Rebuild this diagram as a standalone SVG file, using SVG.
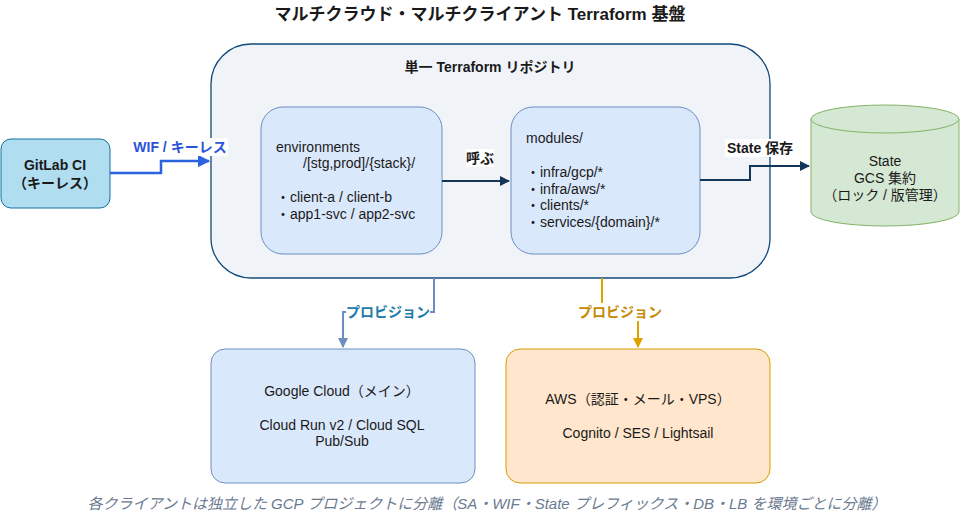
<svg xmlns="http://www.w3.org/2000/svg" width="961" height="515" viewBox="0 0 961 515">
<defs>
<style>
text{font-family:"Liberation Sans","Noto Sans CJK JP",sans-serif;fill:#1a1a1a}
.b{font-weight:bold}
.t{font-size:14px}
.lbl{font-size:14px;font-weight:bold}
</style>
<marker id="aBlue" viewBox="0 0 10 10" refX="9" refY="5" markerWidth="5" markerHeight="5" orient="auto"><path d="M0,0L10,5L0,10z" fill="#2b62e0"/></marker>
<marker id="aNavy" viewBox="0 0 10 10" refX="9" refY="5" markerWidth="5" markerHeight="5" orient="auto"><path d="M0,0L10,5L0,10z" fill="#143656"/></marker>
<marker id="aGcp" viewBox="0 0 10 10" refX="9" refY="5" markerWidth="5" markerHeight="5" orient="auto"><path d="M0,0L10,5L0,10z" fill="#6c8ebf"/></marker>
<marker id="aAws" viewBox="0 0 10 10" refX="9" refY="5" markerWidth="5" markerHeight="5" orient="auto"><path d="M0,0L10,5L0,10z" fill="#e0a000"/></marker>
</defs>
<rect width="961" height="515" fill="#fff"/>
<text x="480" y="20" text-anchor="middle" class="b" font-size="17">マルチクラウド・マルチクライアント Terraform 基盤</text>

<g id="repo">
<rect x="211" y="44" width="559" height="234" rx="40" fill="#f0f4f9" stroke="#12497a" stroke-width="1.3"/>
<text x="490" y="72" text-anchor="middle" class="b t">単一 Terraform リポジトリ</text>
</g>
<g id="gitlab">
<rect x="1" y="139" width="109" height="69" rx="10" fill="#b1ddf0" stroke="#10739e"/>
<text x="55" y="170" text-anchor="middle" class="b t">GitLab CI</text>
<text x="55" y="188" text-anchor="middle" class="b t">（キーレス）</text>
</g>
<g id="env">
<rect x="261" y="107" width="181" height="147" rx="22" fill="#dae8fc" stroke="#6c8ebf"/>
<text class="t" fill="#333"><tspan x="276" y="152">environments</tspan><tspan x="303" y="168">/[stg,prod]/{stack}/</tspan><tspan x="276" y="202">・client-a / client-b</tspan><tspan x="276" y="219">・app1-svc / app2-svc</tspan></text>
</g>
<g id="modules">
<rect x="511" y="107" width="189" height="147" rx="22" fill="#dae8fc" stroke="#6c8ebf"/>
<text class="t"><tspan x="526" y="143">modules/</tspan><tspan x="526" y="177">・infra/gcp/*</tspan><tspan x="526" y="194">・infra/aws/*</tspan><tspan x="526" y="210">・clients/*</tspan><tspan x="526" y="227">・services/{domain}/*</tspan></text>
</g>
<g id="state">
<path d="M811,119 L811,212 A74,14 0 0 0 959,212 L959,119" fill="#d5e8d4" stroke="#82b366"/>
<ellipse cx="885" cy="119" rx="74" ry="14" fill="#d5e8d4" stroke="#82b366"/>
<text x="885" y="166" text-anchor="middle" class="t">State</text>
<text x="885" y="183" text-anchor="middle" class="t">GCS 集約</text>
<text x="885" y="200" text-anchor="middle" class="t">（ロック / 版管理）</text>
</g>
<g id="gcp">
<rect x="211" y="349" width="264" height="134" rx="14" fill="#dae8fc" stroke="#6c8ebf"/>
<text x="342" y="396" text-anchor="middle" class="t">Google Cloud（メイン）</text>
<text x="342" y="430" text-anchor="middle" class="t">Cloud Run v2 / Cloud SQL</text>
<text x="342" y="446" text-anchor="middle" class="t">Pub/Sub</text>
</g>
<g id="aws">
<rect x="506" y="349" width="264" height="134" rx="14" fill="#ffe6cc" stroke="#d79b00"/>
<text x="638" y="404" text-anchor="middle" class="t">AWS（認証・メール・VPS）</text>
<text x="638" y="438" text-anchor="middle" class="t">Cognito / SES / Lightsail</text>
</g>

<g id="connectors" fill="none">
<path d="M110,173 H161 V161 H209" stroke="#2b62e0" stroke-width="2.5" marker-end="url(#aBlue)"/>
<path d="M442,181 H509" stroke="#143656" stroke-width="2" marker-end="url(#aNavy)"/>
<path d="M700,180 H750 V166 H809" stroke="#143656" stroke-width="2" marker-end="url(#aNavy)"/>
<path d="M434,278 V312 H343 V347" stroke="#6c8ebf" stroke-width="2" marker-end="url(#aGcp)"/>
<path d="M602,278 V312 H638 V347" stroke="#e0a000" stroke-width="2" marker-end="url(#aAws)"/>
</g>
<g id="labels">
<rect x="132" y="138" width="96" height="18" fill="#fff"/>
<text x="180" y="152" text-anchor="middle" class="lbl" style="fill:#2b52d8">WIF / キーレス</text>
<rect x="466" y="149" width="28" height="18" fill="#fff"/>
<text x="480" y="163" text-anchor="middle" class="lbl">呼ぶ</text>
<rect x="725" y="139" width="70" height="18" fill="#fff"/>
<text x="760" y="153" text-anchor="middle" class="lbl">State 保存</text>
<rect x="346" y="303" width="84" height="18" fill="#fff"/>
<text x="388" y="317" text-anchor="middle" class="lbl" style="fill:#1d7aa8">プロビジョン</text>
<rect x="578" y="303" width="84" height="18" fill="#fff"/>
<text x="620" y="317" text-anchor="middle" class="lbl" style="fill:#c68a00">プロビジョン</text>
</g>
<text x="487" y="509" text-anchor="middle" font-size="15" font-style="italic" style="fill:#6b7a90">各クライアントは独立した GCP プロジェクトに分離（SA・WIF・State プレフィックス・DB・LB を環境ごとに分離）</text>
</svg>
